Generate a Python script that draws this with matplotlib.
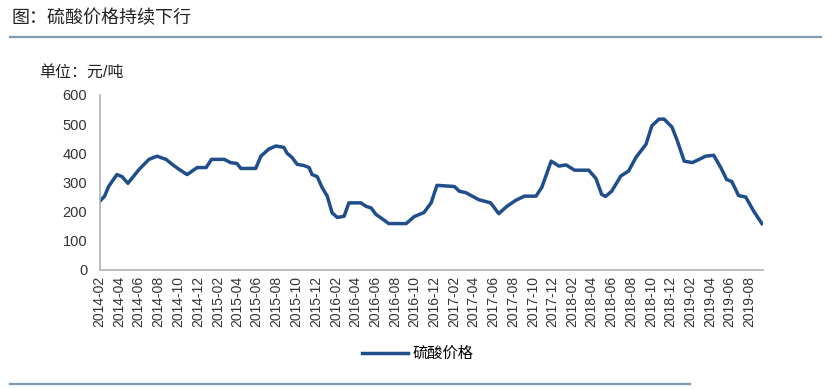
import matplotlib
matplotlib.use("Agg")
import matplotlib.pyplot as plt
import pandas as pd

plt.rcParams['font.family'] = ['Liberation Sans', 'Noto Sans CJK SC', 'DejaVu Sans']

# 硫酸价格 (元/吨)
dates = ["2014-02-01", "2014-02-16", "2014-03-01", "2014-03-26", "2014-04-11", "2014-04-29",
         "2014-06-03", "2014-07-03", "2014-07-28", "2014-08-25", "2014-09-13", "2014-10-04",
         "2014-10-29", "2014-11-29", "2014-12-27", "2015-01-12", "2015-02-21", "2015-03-12",
         "2015-04-01", "2015-04-13", "2015-05-29", "2015-06-14", "2015-07-08", "2015-07-30",
         "2015-08-24", "2015-09-03", "2015-09-18", "2015-10-04", "2015-10-25", "2015-11-10",
         "2015-11-19", "2015-12-05", "2015-12-20", "2016-01-05", "2016-01-20", "2016-02-05",
         "2016-02-26", "2016-03-12", "2016-04-18", "2016-05-04", "2016-05-19", "2016-06-04",
         "2016-06-22", "2016-07-13", "2016-09-05", "2016-09-30", "2016-10-30", "2016-11-21",
         "2016-12-09", "2017-02-01", "2017-02-16", "2017-03-08", "2017-04-17", "2017-05-24",
         "2017-06-18", "2017-07-13", "2017-08-10", "2017-09-05", "2017-10-11", "2017-10-29",
         "2017-11-27", "2017-12-21", "2018-01-12", "2018-02-07", "2018-03-23", "2018-04-14",
         "2018-05-02", "2018-05-14", "2018-06-02", "2018-06-30", "2018-07-24", "2018-08-16",
         "2018-09-16", "2018-10-04", "2018-10-26", "2018-11-11", "2018-12-05", "2018-12-20",
         "2019-01-12", "2019-02-06", "2019-02-27", "2019-03-19", "2019-04-13", "2019-05-05",
         "2019-05-23", "2019-06-08", "2019-06-29", "2019-07-21", "2019-08-15", "2019-09-09"]
price = [235, 253, 287, 327, 320, 297,
         345, 379, 390, 379, 362, 345,
         327, 351, 351, 379, 379, 368,
         365, 348, 348, 390, 414, 425,
         420, 400, 386, 362, 358, 351,
         327, 320, 283, 253, 196, 180,
         184, 230, 230, 218, 213, 190,
         176, 159, 159, 183, 197, 230,
         290, 286, 270, 265, 241, 230,
         193, 218, 239, 253, 253, 283,
         373, 356, 360, 342, 342, 314,
         259, 252, 270, 322, 339, 386,
         431, 494, 517, 517, 490, 448,
         373, 368, 379, 390, 393, 351,
         310, 303, 255, 250, 201, 159]

tick_labels = [f"{y}-{m:02d}" for y in range(2014, 2020) for m in range(2, 13, 2)]
tick_labels = tick_labels[:34]

x = pd.to_datetime(dates)
ticks = pd.to_datetime([t + "-01" for t in tick_labels])

fig = plt.figure(figsize=(8.31, 3.89), dpi=100)
ax = fig.add_axes([0.120, 0.306, 0.798, 0.450])

ax.plot(x, price, color='#1f4e8a', lw=2.5, label='硫酸价格', solid_joinstyle='round')

ax.set_ylim(0, 600)
ax.set_yticks(range(0, 601, 100))
ax.set_xlim(pd.Timestamp("2014-02-01"), pd.Timestamp("2019-09-12"))
ax.set_xticks(ticks)
ax.set_xticklabels(tick_labels, rotation=90, fontsize=10, color='#333333')
ax.tick_params(axis='y', labelsize=10.5, length=0, pad=9, colors='#333333')
ax.tick_params(axis='x', length=0, pad=4)

for s in ['top', 'right']:
    ax.spines[s].set_visible(False)
for s in ['left', 'bottom']:
    ax.spines[s].set_color('#b0b0b0')
    ax.spines[s].set_linewidth(1.2)

ax.legend(loc='center', bbox_to_anchor=(0.48, -0.48), frameon=False,
          prop={'size': 11}, handlelength=3.0, handletextpad=0.3)

fig.text(0.014, 0.953, '图：硫酸价格持续下行', fontsize=13, color='#222222', va='center')
fig.text(0.047, 0.815, '单位：元/吨', fontsize=11.5, color='#222222', va='center')
fig.add_artist(plt.Line2D([0.012, 0.988], [0.905, 0.905], color='#7d9ab0', lw=1.6))
fig.add_artist(plt.Line2D([0.012, 0.83], [0.012, 0.012], color='#7d9ab0', lw=1.6))

fig.savefig('out.png', dpi=100)
